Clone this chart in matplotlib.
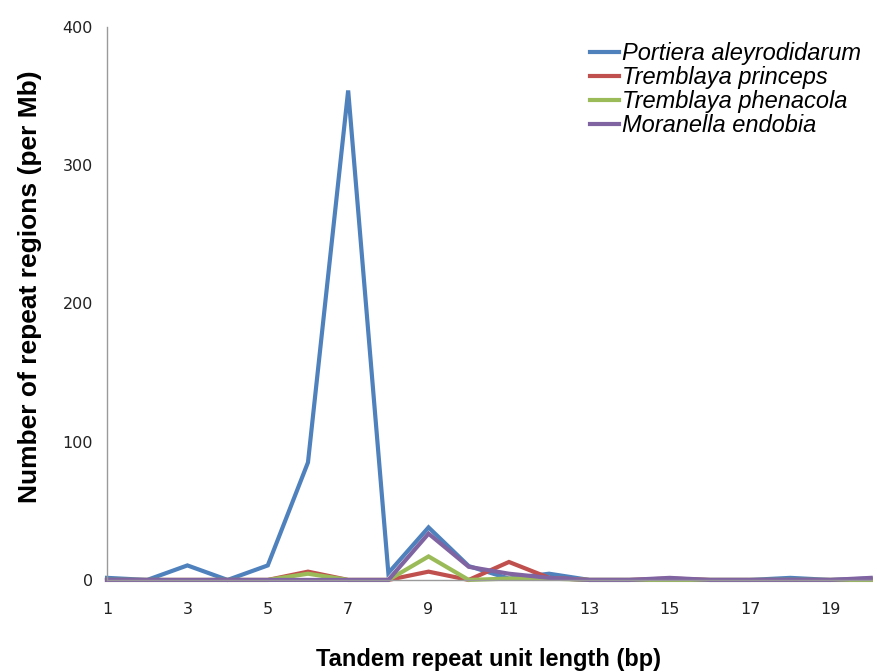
import matplotlib
matplotlib.use("Agg")
import matplotlib.pyplot as plt

x = list(range(1, 21))
portiera = [1.5, 0, 10.5, 0, 10.5, 85, 354, 5, 38, 10, 1, 4.5, 0, 0, 0, 0, 0, 1.5, 0, 1]
princeps = [0, 0, 0, 0, 0, 6, 0, 0, 6, 0, 13, 1.5, 0, 0, 1, 0, 0, 0, 0, 0]
phenacola = [0, 0, 0, 0, 0, 4.5, 0, 0, 17, 0, 1, 1, 0, 0, 0, 0, 0, 0, 0, 0]
moranella = [0, 0, 0, 0, 0, 0, 0, 0, 33.5, 9.5, 4.5, 1.5, 0, 0, 1.5, 0, 0, 0, 0, 1.5]

names = ["Portiera aleyrodidarum", "Tremblaya princeps", "Tremblaya phenacola", "Moranella endobia"]
colors = ["#4F81BD", "#C0504D", "#9BBB59", "#8064A2"]
series = [portiera, princeps, phenacola, moranella]

xticks = [1, 3, 5, 7, 9, 11, 13, 15, 17, 19]
yticks = [0, 100, 200, 300, 400]

fig = plt.figure(figsize=(8.88, 6.72), dpi=100)
ax = fig.add_axes([0.1205, 0.137, 0.860, 0.823])
for s, c, n in zip(series, colors, names):
    ax.plot(x, s, color=c, lw=3, label=n, solid_joinstyle="miter", clip_on=False)

ax.set_xlim(1, 20)
ax.set_ylim(0, 400)
ax.set_xticks(xticks)
ax.set_yticks(yticks)
ax.tick_params(length=0, labelsize=11.5, colors="#222222")
ax.tick_params(axis="x", pad=16)
ax.tick_params(axis="y", pad=10)
for sp in ["top", "right"]:
    ax.spines[sp].set_visible(False)
ax.spines["left"].set_color("#9a9a9a")
ax.spines["bottom"].set_color("#9a9a9a")
ax.spines["left"].set_linewidth(1)
ax.spines["bottom"].set_linewidth(1)

ax.set_xlabel("Tandem repeat unit length (bp)", fontsize=17, fontweight="bold",
              family="Liberation Sans")
ax.xaxis.label.set_verticalalignment("center")
ax.xaxis.set_label_coords(0.5, -0.1447)
ax.set_ylabel("Number of repeat regions (per Mb)", fontsize=19, fontweight="bold",
              family="Liberation Sans")
ax.yaxis.label.set_verticalalignment("center")
ax.yaxis.set_label_coords(-0.1008, 0.53)

leg = fig.legend(*ax.get_legend_handles_labels(), loc="upper left",
                 bbox_to_anchor=(0.664, 0.9375), frameon=False,
                 prop={"family": "Liberation Sans", "style": "italic", "size": 17},
                 handlelength=1.25, handletextpad=0.1, labelspacing=0.04,
                 borderaxespad=0, borderpad=0)

fig.savefig("out.png", dpi=100)
